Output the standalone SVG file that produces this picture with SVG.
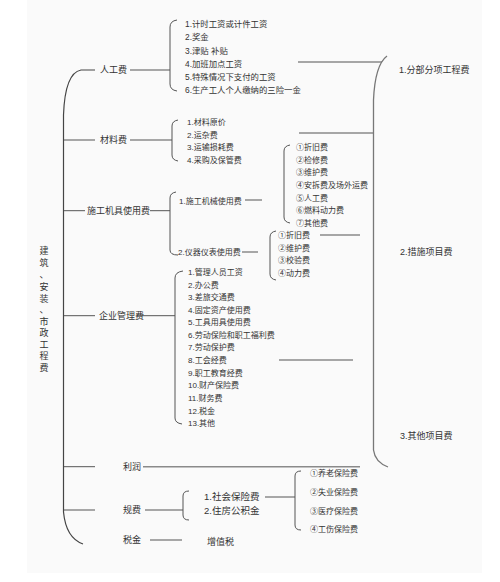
<svg xmlns="http://www.w3.org/2000/svg" width="500" height="582" viewBox="0 0 500 582">
<style>
text{font-family:"Liberation Sans","Noto Sans CJK SC",sans-serif;fill:#333;dominant-baseline:central}
.l1{font-size:9px}
.it{font-size:8px}
.ir{font-size:8.4px}
.rt{font-size:9px}
.gf{font-size:9.5px}
.br{fill:none;stroke:#555;stroke-width:1}
.ln{fill:none;stroke:#555;stroke-width:1}
.gl{fill:none;stroke:#8a8a8a;stroke-width:1.4}
.mb{fill:none;stroke:#444;stroke-width:1.2}
.rb{fill:none;stroke:#777;stroke-width:1.3}
</style>
<rect x="0" y="0" width="500" height="582" fill="#ffffff"/>
<rect x="27" y="0" width="455" height="573" fill="#fafafa"/>

<g id="connectors">
<path class="mb" d="M95,70 H81 Q65,73 63.5,115 V512 Q66,538 83,544"/>
<path class="ln" d="M64,140 H95 M64,210.7 H85 M64,315.7 H95 M64,466.7 H95 M64,510 H95"/>
<path class="ln" d="M130,70 H170 M130,140 H172 M150,210.7 H170 M137,315.7 H175 M145,510 H183 M150,540 H182"/>
<path class="ln" d="M245,200 H262 M242,252 H258 M265,497 H295"/>
<path class="gl" d="M143,466.7 H360 M298,62 H382 M299,133 H374 M320,235 H360 M279,360 H353"/>
<path class="rb" d="M387,56 Q375,65 373.5,100 V450 Q375,462 388,467"/>
<path class="br" d="M177,20 Q170,21 170,27 V84 Q170,90 177,91"/>
<path class="br" d="M178,120 Q172,121 172,126 V155 Q172,160 178,161"/>
<path class="br" d="M176,192 Q170,193 170,198 V250 Q170,255 178,255"/>
<path class="br" d="M290,145 Q284,146 284,151 V217 Q284,222 290,223"/>
<path class="br" d="M276,231 Q270,232 270,237 V274 Q270,279 276,280"/>
<path class="br" d="M183,271 Q175,272 175,278 V418 Q175,423 182,424"/>
<path class="br" d="M189,491 Q183,491 183,496 V515 Q183,520 189,520"/>
<path class="br" d="M301,471 Q295,471 295,476 V525 Q295,530 301,530"/>
</g>

<g id="root">
<text class="l1" x="44" text-anchor="middle"><tspan x="44" y="250.5">建</tspan><tspan x="44" y="263">筑</tspan><tspan x="44" y="275">、</tspan><tspan x="44" y="286.5">安</tspan><tspan x="44" y="298.5">装</tspan><tspan x="44" y="310">、</tspan><tspan x="44" y="322">市</tspan><tspan x="44" y="333">政</tspan><tspan x="44" y="344.5">工</tspan><tspan x="44" y="356">程</tspan><tspan x="44" y="368">费</tspan></text>
</g>

<g id="rengong">
<text class="l1" x="100" y="70">人工费</text>
<text class="ir" x="185" y="24">1.计时工资或计件工资</text>
<text class="ir" x="185" y="37">2.奖金</text>
<text class="ir" x="185" y="51">3.津贴 补贴</text>
<text class="ir" x="185" y="64">4.加班加点工资</text>
<text class="ir" x="185" y="77">5.特殊情况下支付的工资</text>
<text class="ir" x="185" y="90">6.生产工人个人缴纳的三险一金</text>
</g>

<g id="cailiao">
<text class="l1" x="100" y="140">材料费</text>
<text class="it" x="187" y="122">1.材料原价</text>
<text class="it" x="187" y="135">2.运杂费</text>
<text class="it" x="187" y="147">3.运输损耗费</text>
<text class="it" x="187" y="160">4.采购及保管费</text>
</g>

<g id="jiju">
<text class="l1" x="87" y="210.7">施工机具使用费</text>
<text class="it" x="179" y="201">1.施工机械使用费</text>
<text class="it" x="178" y="252.5">2.仪器仪表使用费</text>
</g>

<g id="jixie">
<text class="it" x="296" y="147">①折旧费</text>
<text class="it" x="296" y="160">②检修费</text>
<text class="it" x="296" y="172.5">③维护费</text>
<text class="it" x="296" y="185">④安拆费及场外运费</text>
<text class="it" x="296" y="198">⑤人工费</text>
<text class="it" x="296" y="210.5">⑥燃料动力费</text>
<text class="it" x="296" y="223">⑦其他费</text>
</g>

<g id="yiqi">
<text class="it" x="278" y="235">①折旧费</text>
<text class="it" x="278" y="248">②维护费</text>
<text class="it" x="278" y="260">③校验费</text>
<text class="it" x="278" y="273">④动力费</text>
</g>

<g id="qiye">
<text class="l1" x="99" y="315.7">企业管理费</text>
<text class="it" x="188" y="272">1.管理人员工资</text>
<text class="it" x="188" y="285">2.办公费</text>
<text class="it" x="188" y="297">3.差旅交通费</text>
<text class="it" x="188" y="310">4.固定资产使用费</text>
<text class="it" x="188" y="322">5.工具用具使用费</text>
<text class="it" x="188" y="335">6.劳动保险和职工福利费</text>
<text class="it" x="188" y="347.5">7.劳动保护费</text>
<text class="it" x="188" y="360">8.工会经费</text>
<text class="it" x="188" y="373">9.职工教育经费</text>
<text class="it" x="188" y="385.5">10.财产保险费</text>
<text class="it" x="188" y="398">11.财务费</text>
<text class="it" x="188" y="411">12.税金</text>
<text class="it" x="188" y="423.5">13.其他</text>
</g>

<g id="lirun">
<text class="l1" x="123" y="466.7">利润</text>
</g>

<g id="guifei">
<text class="l1" x="123" y="510">规费</text>
<text class="gf" x="204" y="496.5">1.社会保险费</text>
<text class="gf" x="204" y="510">2.住房公积金</text>
</g>

<g id="shebao">
<text class="it" x="310" y="473.5">①养老保险费</text>
<text class="it" x="310" y="492.5">②失业保险费</text>
<text class="it" x="310" y="511">③医疗保险费</text>
<text class="it" x="310" y="529">④工伤保险费</text>
</g>

<g id="shuijin">
<text class="l1" x="123" y="539.5">税金</text>
<text class="l1" x="207" y="542">增值税</text>
</g>

<g id="right">
<text class="rt" x="399" y="70">1.分部分项工程费</text>
<text class="rt" x="400" y="252">2.措施项目费</text>
<text class="rt" x="400" y="435.5">3.其他项目费</text>
</g>
</svg>
